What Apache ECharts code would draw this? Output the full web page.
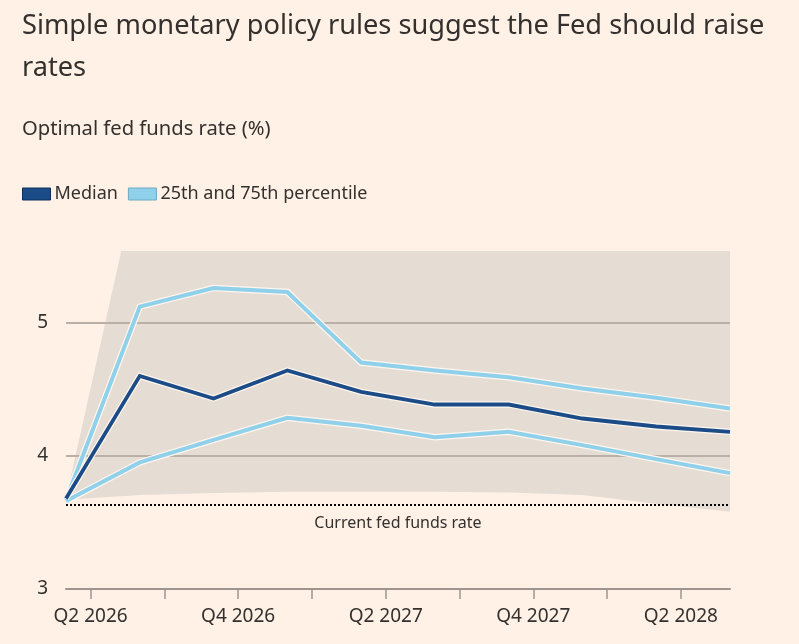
<!DOCTYPE html>
<html>
<head>
<meta charset="utf-8">
<script src="https://cdn.jsdelivr.net/npm/echarts@6/dist/echarts.min.js"></script>
<style>
    html, body { margin: 0; padding: 0; background: #fff1e5; }
    #chart { width: 799px; height: 644px; }
</style>
</head>
<body>
<div id="chart"></div>
<script>
// monthly category axis, Mar 2026 .. Jun 2028
var months = ['2026-03', '2026-04', '2026-05', '2026-06', '2026-07', '2026-08', '2026-09',
    '2026-10', '2026-11', '2026-12', '2027-01', '2027-02', '2027-03', '2027-04', '2027-05',
    '2027-06', '2027-07', '2027-08', '2027-09', '2027-10', '2027-11', '2027-12', '2028-01',
    '2028-02', '2028-03', '2028-04', '2028-05', '2028-06'];
// data is quarterly (quarter end months)
var quarterEnds = ['2026-03', '2026-06', '2026-09', '2026-12', '2027-03', '2027-06',
    '2027-09', '2027-12', '2028-03', '2028-06'];
var median = [3.68, 4.60, 4.43, 4.64, 4.48, 4.385, 4.385, 4.28, 4.22, 4.18];
var p75 = [3.67, 5.12, 5.26, 5.23, 4.70, 4.64, 4.59, 4.505, 4.435, 4.355];
var p25 = [3.66, 3.95, 4.12, 4.285, 4.225, 4.14, 4.18, 4.08, 3.975, 3.87];
// full range of rules (top runs off the chart)
var rangeLow = [3.67, 3.705, 3.72, 3.73, 3.73, 3.73, 3.725, 3.705, 3.64, 3.58];
var rangeHigh = [3.68, 6.16, 6.4, 6.4, 6.3, 6.2, 6.1, 6.0, 5.9, 5.8];
var currentRate = 3.625;
var tickMonths = ['01', '04', '07', '10'];
var quarterLabels = {
    '2026-04': 'Q2 2026',
    '2026-10': 'Q4 2026',
    '2027-04': 'Q2 2027',
    '2027-10': 'Q4 2027',
    '2028-04': 'Q2 2028'
};

var font = 'Noto Sans';
var textColor = '#33302e';
var gridColor = '#bab0a8';
var darkBlue = '#1b4c88';
var lightBlue = '#8fd0ea';
var halo = '#fff6ee';

var pairs = function(vals) {
    var out = [];
    for (var i = 0; i < quarterEnds.length; i++) {
        out.push([quarterEnds[i], vals[i]]);
    }
    return out;
};
var bandSpan = [];
for (var i = 0; i < rangeLow.length; i++) {
    bandSpan.push(rangeHigh[i] - rangeLow[i]);
}

var lineSeries = function(name, vals, color, width, z) {
    return [{
        name: name + ' halo',
        type: 'line',
        data: pairs(vals),
        symbol: 'none',
        silent: true,
        z: z,
        lineStyle: { color: halo, width: width + 2.5, join: 'miter' }
    }, {
        name: name,
        type: 'line',
        data: pairs(vals),
        symbol: 'none',
        silent: true,
        z: z + 1,
        itemStyle: { color: color },
        lineStyle: { color: color, width: width, join: 'miter' }
    }];
};

var chart = echarts.init(document.getElementById('chart'));
var series = [{
    name: 'rangeLow',
    type: 'line',
    stack: 'band',
    data: pairs(rangeLow),
    symbol: 'none',
    silent: true,
    z: 1,
    lineStyle: { opacity: 0 }
}, {
    name: 'range',
    type: 'line',
    stack: 'band',
    data: pairs(bandSpan),
    symbol: 'none',
    silent: true,
    z: 1,
    lineStyle: { opacity: 0 },
    areaStyle: { color: '#e5dcd4', opacity: 1 }
}];
series = series.concat(lineSeries('25th and 75th percentile', p75, lightBlue, 4, 4));
series = series.concat(lineSeries('25th and 75th percentile', p25, lightBlue, 4, 6));
var med = lineSeries('Median', median, darkBlue, 3.8, 8);
med[1].markLine = {
    silent: true,
    symbol: ['none', 'none'],
    lineStyle: { color: '#000', type: [2, 2], width: 2 },
    label: {
        show: true,
        position: 'insideMiddleBottom',
        formatter: 'Current fed funds rate',
        color: textColor,
        fontFamily: font,
        fontSize: 16,
        distance: 10
    },
    emphasis: { disabled: true },
    data: [{ yAxis: currentRate }]
};
series = series.concat(med);

var option = {
    backgroundColor: '#fff1e5',
    animation: false,
    title: [{
        text: 'Simple monetary policy rules suggest the Fed should raise\nrates',
        left: 17,
        top: 0,
        textStyle: { fontFamily: font, fontSize: 27.2, fontWeight: 'normal', color: textColor, lineHeight: 42 }
    }, {
        text: 'Optimal fed funds rate (%)',
        left: 17,
        top: 114,
        textStyle: { fontFamily: font, fontSize: 20.2, fontWeight: 'normal', color: textColor }
    }],
    legend: {
        left: 17,
        top: 180,
        icon: 'rect',
        itemWidth: 28,
        itemHeight: 12,
        itemGap: 10,
        selectedMode: false,
        textStyle: { fontFamily: font, fontSize: 18, color: textColor, padding: [0, 0, 0, -1] },
        data: [{
            name: 'Median',
            itemStyle: { color: darkBlue, borderColor: '#0e2f5c', borderWidth: 1 }
        }, {
            name: '25th and 75th percentile',
            itemStyle: { color: lightBlue, borderColor: '#6fa9c0', borderWidth: 1 }
        }]
    },
    grid: { left: 66, right: 69, top: 252, bottom: 55 },
    xAxis: {
        type: 'category',
        data: months,
        boundaryGap: false,
        z: 2,
        axisLine: { lineStyle: { color: '#9e958e', width: 2 } },
        axisTick: {
            length: 10,
            interval: function(idx, val) { return tickMonths.indexOf(val.slice(5)) >= 0; },
            lineStyle: { color: '#9e958e', width: 1.5 }
        },
        axisLabel: {
            interval: function(idx, val) { return quarterLabels[val] !== undefined; },
            formatter: function(val) { return quarterLabels[val] || ''; },
            margin: 18,
            fontFamily: font,
            fontSize: 19,
            color: textColor
        },
        splitLine: { show: false }
    },
    yAxis: {
        type: 'value',
        min: 3,
        max: 5.53,
        interval: 1,
        z: 2,
        axisLine: { show: false },
        axisTick: { show: false },
        axisLabel: {
            margin: 18,
            fontFamily: font,
            fontSize: 19,
            color: textColor,
            formatter: function(v) { return v % 1 === 0 ? String(v) : ''; }
        },
        splitLine: {
            lineStyle: { color: [gridColor, gridColor, gridColor, 'rgba(0,0,0,0)'], width: 2 }
        }
    },
    series: series
};
chart.setOption(option);
</script>
</body>
</html>
